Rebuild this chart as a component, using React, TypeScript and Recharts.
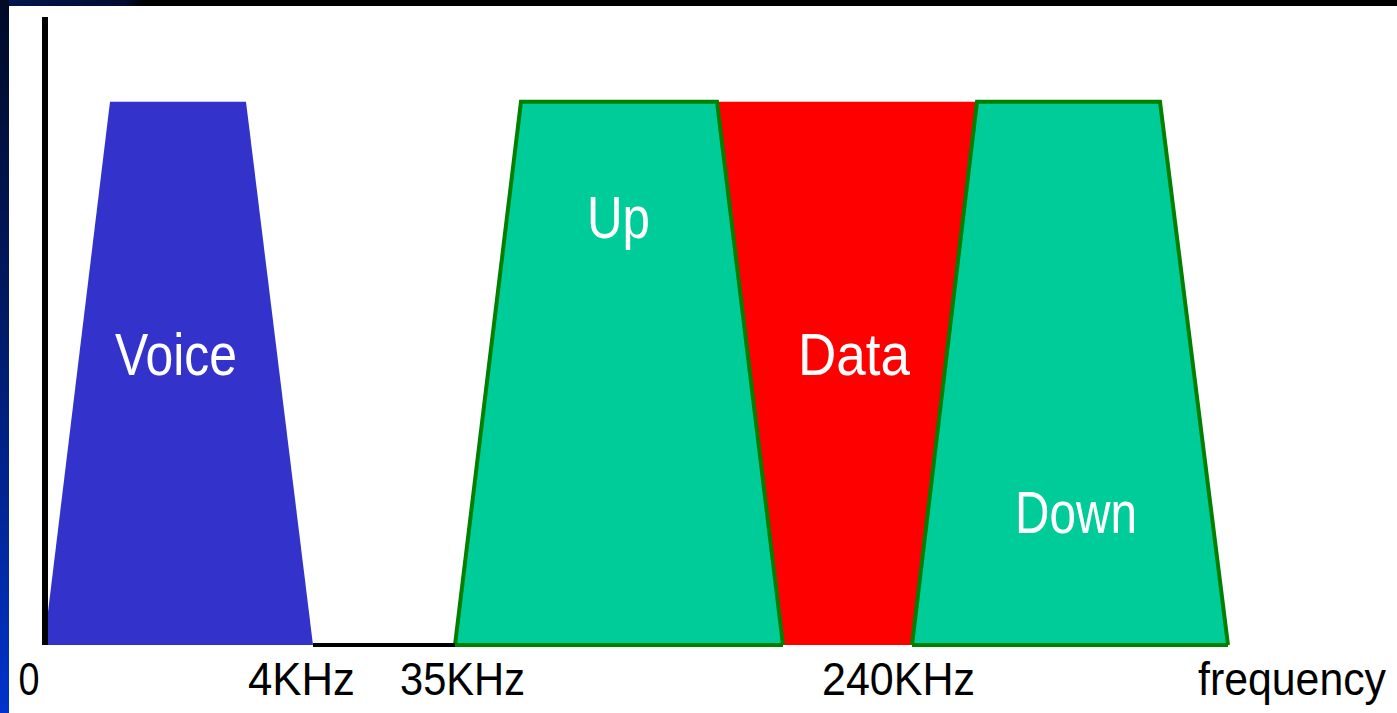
import { ComposedChart, Area, XAxis, YAxis, ReferenceLine, ReferenceDot } from 'recharts'

// positions along the band axis (0 = axis origin), levels in % of axis height
const LEVEL = 86.5

const voicePos = [-1, 65, 201, 268]
const voiceLevel = [0, LEVEL, LEVEL, 0]

const upPos = [410, 476, 672, 738]
const upLevel = [0, LEVEL, LEVEL, 0]

const dataPos = [672, 738, 867, 932]
const dataFloor = [LEVEL, 0, 0, LEVEL]
const dataLevel = [LEVEL, LEVEL, LEVEL, LEVEL]

const downPos = [867, 932, 1115, 1183]
const downLevel = [0, LEVEL, LEVEL, 0]

const tickLabels = ['0', '4KHz', '35KHz', '240KHz', 'frequency']
const tickPos = [-16, 256.5, 417.5, 853.5, 1247]

const bandNames = ['Voice', 'Up', 'Data', 'Down']
const bandLabelPos = [131, 573.5, 809, 1031]
const bandLabelLevel = [43, 64.8, 43, 17.8]

// text widths (px) so the narrow bitmap-ish lettering fits like the original
const tickWidths = [21, 107, 125, 153, 188]
const bandLabelWidths = [122, 63, 112, 122]

type Row = { pos: number; voice?: number | null; up?: number[] | null; data?: number[] | null; down?: number[] | null }

function buildRows(): Row[] {
  const map = new Map<number, Row>()
  const get = (p: number) => {
    if (!map.has(p)) map.set(p, { pos: p, voice: null, up: null, data: null, down: null })
    return map.get(p)!
  }
  voicePos.forEach((p, i) => { get(p).voice = voiceLevel[i] })
  upPos.forEach((p, i) => { get(p).up = [0, upLevel[i]] })
  dataPos.forEach((p, i) => { get(p).data = [dataFloor[i], dataLevel[i]] })
  downPos.forEach((p, i) => { get(p).down = [0, downLevel[i]] })
  return Array.from(map.values()).sort((a, b) => a.pos - b.pos)
}

const rows = buildRows()
const FONT = '"Liberation Sans", Arial, sans-serif'

function FreqTick(props: any) {
  const { x, y, payload } = props
  const i = tickPos.indexOf(payload.value)
  if (i < 0) return null
  const w = tickWidths[i]
  return (
    <text
      x={x - w / 2}
      y={y + 50}
      fontFamily={FONT}
      fontSize={47}
      fill="#000"
      textLength={w}
      lengthAdjust="spacingAndGlyphs"
    >
      {tickLabels[i]}
    </text>
  )
}

export default function App() {
  return (
    <div style={{ position: 'fixed', left: 0, top: 0, width: 1397, height: 713, background: '#fff', overflow: 'hidden' }}>
      <ComposedChart
        width={1397}
        height={713}
        data={rows}
        margin={{ top: 17, right: 0, bottom: 0, left: 9 }}
      >
        <XAxis
          dataKey="pos"
          type="number"
          domain={[-36, 1352]}
          ticks={tickPos}
          tick={<FreqTick />}
          axisLine={false}
          tickLine={false}
          tickSize={0}
          tickMargin={0}
          height={68}
          interval={0}
          allowDataOverflow
        />
        <YAxis hide domain={[0, 100]} />
        <ReferenceLine x={0} stroke="#000" strokeWidth={6} />
        <ReferenceLine
          segment={[{ x: voicePos[3], y: 0 }, { x: upPos[0], y: 0 }]}
          stroke="#000"
          strokeWidth={4}
        />
        <Area
          type="linear"
          dataKey="voice"
          stroke="none"
          fill="#3333cc"
          fillOpacity={1}
          dot={false}
          activeDot={false}
          isAnimationActive={false}
        />
        <Area
          type="linear"
          dataKey="data"
          stroke="none"
          fill="#ff0000"
          fillOpacity={1}
          dot={false}
          activeDot={false}
          isAnimationActive={false}
        />
        <Area
          type="linear"
          dataKey="up"
          stroke="#008000"
          strokeWidth={4}
          fill="#00cc99"
          fillOpacity={1}
          dot={false}
          activeDot={false}
          isAnimationActive={false}
        />
        <Area
          type="linear"
          dataKey="down"
          stroke="#008000"
          strokeWidth={4}
          fill="#00cc99"
          fillOpacity={1}
          dot={false}
          activeDot={false}
          isAnimationActive={false}
        />
        {bandNames.map((name, i) => (
          <ReferenceDot
            key={name}
            x={bandLabelPos[i]}
            y={bandLabelLevel[i]}
            r={0}
            shape={(p: any) => (
              <text
                x={p.cx - bandLabelWidths[i] / 2}
                y={p.cy}
                fontFamily={FONT}
                fontSize={60}
                fill="#fff"
                textLength={bandLabelWidths[i]}
                lengthAdjust="spacingAndGlyphs"
              >
                {name}
              </text>
            )}
          />
        ))}
      </ComposedChart>
      <div
        style={{
          position: 'absolute', left: 0, top: 0, width: 1397, height: 6,
          background: 'linear-gradient(to right, #001650 0px, #000c30 125px, #000 145px)',
        }}
      />
      <div
        style={{
          position: 'absolute', left: 0, top: 0, width: 9, height: 713,
          background: 'linear-gradient(to bottom, #000a26 0%, #001a66 45%, #0033cc 100%)',
        }}
      />
    </div>
  )
}
